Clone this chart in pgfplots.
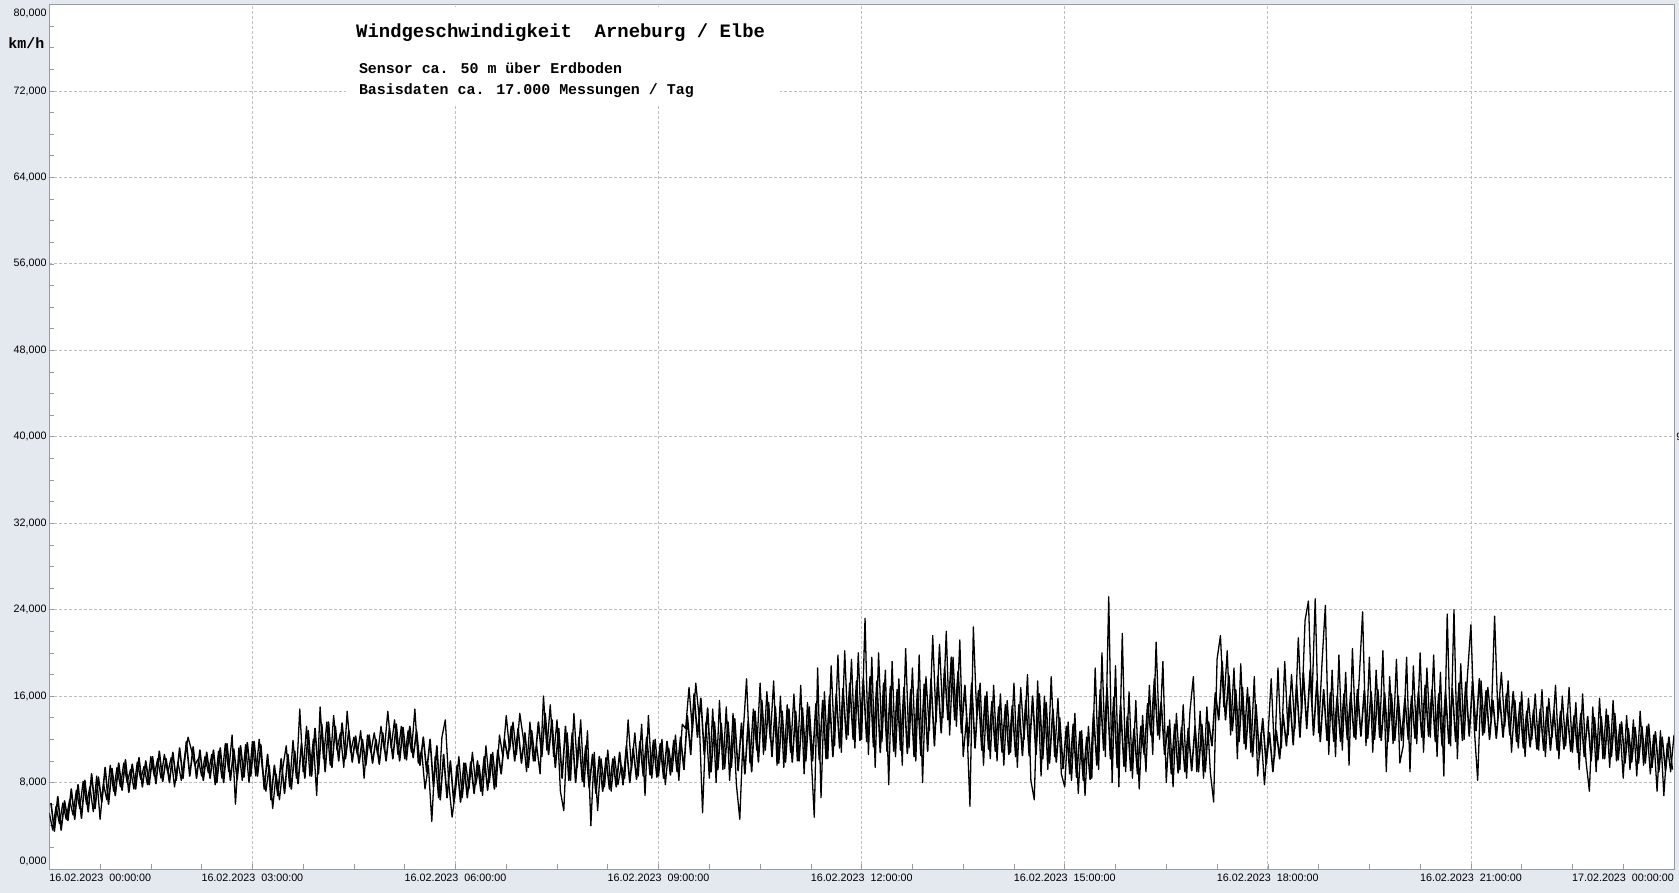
\documentclass[border=0pt]{standalone}
\usepackage{pgfplots}
\pgfplotsset{compat=1.18}
\usepackage{pgfplotstable}
\usepackage{fontspec}
\setmainfont{Liberation Sans}
\newfontfamily\cour{Liberation Mono}
\definecolor{bgc}{RGB}{228,232,239}
\definecolor{gridc}{RGB}{190,190,190}
\definecolor{framec}{RGB}{150,154,162}
% readings at t = h + 0.00, 0.05, ...
\pgfplotstableread[row sep=\\]{t v\\
0.00 5.2\\ 0.05 3.6\\ 0.10 5.8\\ 0.15 4.2\\ 0.20 6.1\\ 0.25 4.6\\ 0.30 6.4\\ 0.35 5.0\\ 0.40 7.3\\ 0.45 5.6\\ 0.50 8.1\\ 0.55 6.0\\ 0.60 7.6\\ 0.65 5.3\\ 0.70 8.6\\ 0.75 4.6\\ 0.80 7.9\\ 0.85 6.4\\ 0.90 9.6\\ 0.95 7.2\\
1.00 9.4\\ 1.05 7.6\\ 1.10 9.8\\ 1.15 8.0\\ 1.20 9.2\\ 1.25 7.4\\ 1.30 9.9\\ 1.35 8.3\\ 1.40 9.5\\ 1.45 7.8\\ 1.50 10.4\\ 1.55 8.6\\ 1.60 10.2\\ 1.65 8.4\\ 1.70 10.6\\ 1.75 8.9\\ 1.80 10.3\\ 1.85 7.6\\ 1.90 9.9\\ 1.95 8.2\\
2.00 10.4\\ 2.05 12.2\\ 2.10 11.0\\ 2.15 9.6\\ 2.20 10.2\\ 2.25 8.6\\ 2.30 10.4\\ 2.35 8.9\\ 2.40 10.6\\ 2.45 7.8\\ 2.50 10.9\\ 2.55 8.4\\ 2.60 11.6\\ 2.65 9.0\\ 2.70 12.4\\ 2.75 6.0\\ 2.80 11.2\\ 2.85 8.2\\ 2.90 11.5\\ 2.95 8.0\\
3.00 11.8\\ 3.05 8.6\\ 3.10 12.0\\ 3.15 9.2\\ 3.20 7.2\\ 3.25 9.6\\ 3.30 5.6\\ 3.35 8.8\\ 3.40 6.4\\ 3.45 9.4\\ 3.50 11.4\\ 3.55 7.6\\ 3.60 11.9\\ 3.65 8.4\\ 3.70 14.8\\ 3.75 9.0\\ 3.80 13.2\\ 3.85 8.6\\ 3.90 12.0\\ 3.95 6.8\\
4.00 15.0\\ 4.05 10.2\\ 4.10 13.6\\ 4.15 9.6\\ 4.20 14.2\\ 4.25 11.0\\ 4.30 12.6\\ 4.35 9.4\\ 4.40 14.6\\ 4.45 10.8\\ 4.50 12.2\\ 4.55 10.6\\ 4.60 12.8\\ 4.65 8.4\\ 4.70 12.4\\ 4.75 10.8\\ 4.80 12.6\\ 4.85 10.6\\ 4.90 13.2\\ 4.95 11.0\\
5.00 14.6\\ 5.05 11.2\\ 5.10 13.8\\ 5.15 10.6\\ 5.20 13.2\\ 5.25 10.2\\ 5.30 12.8\\ 5.35 10.8\\ 5.40 14.8\\ 5.45 9.8\\ 5.50 11.0\\ 5.55 7.4\\ 5.60 9.6\\ 5.65 4.4\\ 5.70 10.4\\ 5.75 6.6\\ 5.80 12.2\\ 5.85 13.8\\ 5.90 8.0\\ 5.95 4.8\\
6.00 7.2\\ 6.05 10.4\\ 6.10 6.6\\ 6.15 9.8\\ 6.20 7.4\\ 6.25 10.8\\ 6.30 7.8\\ 6.35 9.6\\ 6.40 6.8\\ 6.45 11.4\\ 6.50 8.0\\ 6.55 10.8\\ 6.60 7.6\\ 6.65 12.4\\ 6.70 10.4\\ 6.75 14.2\\ 6.80 11.0\\ 6.85 13.6\\ 6.90 10.6\\ 6.95 14.4\\
7.00 12.2\\ 7.05 9.0\\ 7.10 13.6\\ 7.15 10.0\\ 7.20 11.4\\ 7.25 8.8\\ 7.30 16.0\\ 7.35 11.0\\ 7.40 15.2\\ 7.45 10.4\\ 7.50 13.8\\ 7.55 7.2\\ 7.60 5.4\\ 7.65 12.6\\ 7.70 8.2\\ 7.75 14.4\\ 7.80 9.4\\ 7.85 13.8\\ 7.90 7.6\\ 7.95 12.8\\
8.00 4.0\\ 8.05 10.8\\ 8.10 5.4\\ 8.15 10.2\\ 8.20 7.6\\ 8.25 11.0\\ 8.30 7.2\\ 8.35 10.4\\ 8.40 7.8\\ 8.45 9.6\\ 8.50 8.4\\ 8.55 13.8\\ 8.60 9.2\\ 8.65 12.6\\ 8.70 8.6\\ 8.75 13.4\\ 8.80 6.8\\ 8.85 14.2\\ 8.90 8.4\\ 8.95 12.0\\
9.00 8.6\\ 9.05 12.0\\ 9.10 7.8\\ 9.15 11.2\\ 9.20 9.0\\ 9.25 12.4\\ 9.30 8.2\\ 9.35 13.4\\ 9.40 13.0\\ 9.45 16.8\\ 9.50 12.8\\ 9.55 17.2\\ 9.60 14.0\\ 9.65 5.2\\ 9.70 13.6\\ 9.75 8.4\\ 9.80 14.8\\ 9.85 8.0\\ 9.90 15.6\\ 9.95 9.2\\
10.00 15.0\\ 10.05 8.2\\ 10.10 14.4\\ 10.15 7.8\\ 10.20 4.6\\ 10.25 12.6\\ 10.30 17.6\\ 10.35 9.8\\ 10.40 14.8\\ 10.45 11.0\\ 10.50 17.2\\ 10.55 10.6\\ 10.60 16.4\\ 10.65 12.0\\ 10.70 17.4\\ 10.75 9.6\\ 10.80 16.0\\ 10.85 9.4\\ 10.90 15.2\\ 10.95 10.8\\
11.00 16.2\\ 11.05 10.0\\ 11.10 17.0\\ 11.15 8.8\\ 11.20 15.4\\ 11.25 11.0\\ 11.30 4.8\\ 11.35 18.6\\ 11.40 6.6\\ 11.45 16.4\\ 11.50 10.2\\ 11.55 18.8\\ 11.60 11.4\\ 11.65 19.8\\ 11.70 10.8\\ 11.75 20.2\\ 11.80 12.4\\ 11.85 19.4\\ 11.90 11.2\\ 11.95 20.0\\
12.00 12.0\\ 12.05 23.2\\ 12.10 10.6\\ 12.15 19.6\\ 12.20 9.4\\ 12.25 20.0\\ 12.30 11.8\\ 12.35 18.4\\ 12.40 7.8\\ 12.45 19.2\\ 12.50 10.4\\ 12.55 17.6\\ 12.60 9.6\\ 12.65 20.4\\ 12.70 11.2\\ 12.75 18.6\\ 12.80 10.0\\ 12.85 19.8\\ 12.90 8.0\\ 12.95 17.8\\
13.00 12.8\\ 13.05 21.6\\ 13.10 13.6\\ 13.15 20.8\\ 13.20 14.0\\ 13.25 22.0\\ 13.30 12.4\\ 13.35 19.6\\ 13.40 13.2\\ 13.45 21.2\\ 13.50 10.4\\ 13.55 14.0\\ 13.60 5.8\\ 13.65 22.4\\ 13.70 14.2\\ 13.75 17.2\\ 13.80 9.6\\ 13.85 16.4\\ 13.90 10.2\\ 13.95 17.0\\
14.00 10.0\\ 14.05 16.2\\ 14.10 9.6\\ 14.15 15.6\\ 14.20 10.8\\ 14.25 17.2\\ 14.30 9.4\\ 14.35 16.8\\ 14.40 12.0\\ 14.45 18.0\\ 14.50 8.2\\ 14.55 6.4\\ 14.60 17.4\\ 14.65 8.6\\ 14.70 16.0\\ 14.75 9.2\\ 14.80 17.8\\ 14.85 10.4\\ 14.90 15.8\\ 14.95 8.8\\
15.00 7.6\\ 15.05 13.6\\ 15.10 8.2\\ 15.15 14.4\\ 15.20 7.0\\ 15.25 12.8\\ 15.30 6.8\\ 15.35 13.2\\ 15.40 8.4\\ 15.45 18.6\\ 15.50 9.2\\ 15.55 20.0\\ 15.60 10.4\\ 15.65 25.2\\ 15.70 8.0\\ 15.75 18.8\\ 15.80 7.6\\ 15.85 21.8\\ 15.90 9.0\\ 15.95 16.4\\
16.00 8.4\\ 16.05 15.6\\ 16.10 7.4\\ 16.15 14.2\\ 16.20 9.0\\ 16.25 17.0\\ 16.30 10.6\\ 16.35 21.0\\ 16.40 12.0\\ 16.45 19.2\\ 16.50 8.0\\ 16.55 13.8\\ 16.60 7.6\\ 16.65 14.4\\ 16.70 9.2\\ 16.75 15.2\\ 16.80 8.4\\ 16.85 14.6\\ 16.90 17.8\\ 16.95 9.0\\
17.00 14.6\\ 17.05 8.4\\ 17.10 15.0\\ 17.15 9.0\\ 17.20 6.2\\ 17.25 19.4\\ 17.30 21.6\\ 17.35 15.0\\ 17.40 20.2\\ 17.45 12.4\\ 17.50 18.6\\ 17.55 10.2\\ 17.60 19.0\\ 17.65 11.6\\ 17.70 16.8\\ 17.75 10.8\\ 17.80 17.8\\ 17.85 8.6\\ 17.90 12.6\\ 17.95 7.8\\
18.00 12.0\\ 18.05 17.6\\ 18.10 10.4\\ 18.15 18.6\\ 18.20 11.2\\ 18.25 19.2\\ 18.30 12.4\\ 18.35 18.0\\ 18.40 13.0\\ 18.45 21.4\\ 18.50 14.4\\ 18.55 23.0\\ 18.60 24.8\\ 18.65 15.0\\ 18.70 25.0\\ 18.75 12.6\\ 18.80 19.0\\ 18.85 24.4\\ 18.90 10.6\\ 18.95 18.4\\
19.00 10.4\\ 19.05 19.8\\ 19.10 11.0\\ 19.15 18.2\\ 19.20 9.6\\ 19.25 20.4\\ 19.30 12.0\\ 19.35 17.6\\ 19.40 23.8\\ 19.45 11.4\\ 19.50 19.6\\ 19.55 10.8\\ 19.60 18.4\\ 19.65 12.2\\ 19.70 20.2\\ 19.75 9.0\\ 19.80 17.8\\ 19.85 11.6\\ 19.90 19.4\\ 19.95 9.8\\
20.00 11.4\\ 20.05 19.6\\ 20.10 9.0\\ 20.15 18.8\\ 20.20 11.6\\ 20.25 20.0\\ 20.30 10.8\\ 20.35 18.6\\ 20.40 12.2\\ 20.45 19.8\\ 20.50 10.4\\ 20.55 18.2\\ 20.60 8.6\\ 20.65 23.6\\ 20.70 11.4\\ 20.75 24.0\\ 20.80 10.2\\ 20.85 19.0\\ 20.90 12.0\\ 20.95 18.0\\
21.00 22.6\\ 21.05 13.0\\ 21.10 8.2\\ 21.15 17.4\\ 21.20 12.6\\ 21.25 16.8\\ 21.30 13.8\\ 21.35 23.4\\ 21.40 14.0\\ 21.45 18.2\\ 21.50 13.2\\ 21.55 17.4\\ 21.60 10.8\\ 21.65 15.6\\ 21.70 11.2\\ 21.75 16.4\\ 21.80 10.4\\ 21.85 15.8\\ 21.90 12.0\\ 21.95 16.2\\
22.00 11.0\\ 22.05 16.6\\ 22.10 10.4\\ 22.15 15.8\\ 22.20 12.2\\ 22.25 17.0\\ 22.30 10.2\\ 22.35 16.0\\ 22.40 11.4\\ 22.45 16.8\\ 22.50 10.8\\ 22.55 15.4\\ 22.60 9.2\\ 22.65 16.2\\ 22.70 10.0\\ 22.75 7.2\\ 22.80 15.0\\ 22.85 9.0\\ 22.90 15.8\\ 22.95 10.2\\
23.00 14.8\\ 23.05 9.4\\ 23.10 15.6\\ 23.15 10.0\\ 23.20 13.4\\ 23.25 8.4\\ 23.30 14.2\\ 23.35 9.2\\ 23.40 13.8\\ 23.45 8.6\\ 23.50 14.6\\ 23.55 9.6\\ 23.60 13.2\\ 23.65 8.8\\ 23.70 12.4\\ 23.75 7.2\\ 23.80 12.8\\ 23.85 6.8\\ 23.90 11.6\\ 23.95 9.0\\
24.00 12.4\\
}\windA
% readings at t = h + 0.025, 0.075, ...
\pgfplotstableread[row sep=\\]{t v\\
0.025 6.1\\ 0.075 3.5\\ 0.125 6.7\\ 0.175 3.6\\ 0.225 6.3\\ 0.275 4.5\\ 0.325 7.4\\ 0.375 4.6\\ 0.425 7.8\\ 0.475 4.7\\ 0.525 8.2\\ 0.575 5.3\\ 0.625 8.8\\ 0.675 5.6\\ 0.725 8.5\\ 0.775 6.2\\ 0.825 9.4\\ 0.875 6.0\\ 0.925 9.3\\ 0.975 6.8\\
1.025 9.8\\ 1.075 7.3\\ 1.125 10.1\\ 1.175 7.1\\ 1.225 9.7\\ 1.275 7.4\\ 1.325 10.3\\ 1.375 7.6\\ 1.425 10.0\\ 1.475 7.8\\ 1.525 10.4\\ 1.575 7.9\\ 1.625 10.9\\ 1.675 8.1\\ 1.725 10.2\\ 1.775 8.0\\ 1.825 10.8\\ 1.875 8.2\\ 1.925 11.2\\ 1.975 8.4\\
2.025 11.8\\ 2.075 8.6\\ 2.125 11.3\\ 2.175 8.4\\ 2.225 11.0\\ 2.275 8.2\\ 2.325 10.8\\ 2.375 8.4\\ 2.425 11.0\\ 2.475 8.0\\ 2.525 11.2\\ 2.575 8.0\\ 2.625 11.6\\ 2.675 8.2\\ 2.725 11.1\\ 2.775 8.3\\ 2.825 11.4\\ 2.875 8.5\\ 2.925 11.7\\ 2.975 8.6\\
3.025 11.8\\ 3.075 8.6\\ 3.125 11.5\\ 3.175 7.4\\ 3.225 10.6\\ 3.275 6.4\\ 3.325 9.6\\ 3.375 6.8\\ 3.425 10.2\\ 3.475 7.0\\ 3.525 10.6\\ 3.575 7.4\\ 3.625 10.9\\ 3.675 7.9\\ 3.725 11.6\\ 3.775 8.4\\ 3.825 12.8\\ 3.875 8.6\\ 3.925 13.0\\ 3.975 8.8\\
4.025 13.4\\ 4.075 9.0\\ 4.125 13.6\\ 4.175 9.4\\ 4.225 13.2\\ 4.275 10.0\\ 4.325 13.5\\ 4.375 10.2\\ 4.425 12.8\\ 4.475 9.9\\ 4.525 12.3\\ 4.575 9.8\\ 4.625 12.0\\ 4.675 9.6\\ 4.725 12.4\\ 4.775 9.8\\ 4.825 12.0\\ 4.875 9.7\\ 4.925 12.6\\ 4.975 10.0\\
5.025 13.0\\ 5.075 10.2\\ 5.125 13.4\\ 5.175 10.0\\ 5.225 13.1\\ 5.275 10.1\\ 5.325 13.2\\ 5.375 10.3\\ 5.425 12.8\\ 5.475 9.6\\ 5.525 12.2\\ 5.575 9.0\\ 5.625 12.0\\ 5.675 7.6\\ 5.725 11.4\\ 5.775 6.4\\ 5.825 10.6\\ 5.875 6.6\\ 5.925 10.0\\ 5.975 6.2\\
6.025 9.6\\ 6.075 6.2\\ 6.125 9.8\\ 6.175 6.6\\ 6.225 9.9\\ 6.275 7.0\\ 6.325 10.0\\ 6.375 7.2\\ 6.425 10.4\\ 6.475 7.3\\ 6.525 10.6\\ 6.575 7.4\\ 6.625 11.0\\ 6.675 8.8\\ 6.725 12.0\\ 6.775 10.2\\ 6.825 13.2\\ 6.875 10.0\\ 6.925 13.0\\ 6.975 9.8\\
7.025 12.6\\ 7.075 9.4\\ 7.125 12.8\\ 7.175 10.0\\ 7.225 13.6\\ 7.275 10.4\\ 7.325 14.4\\ 7.375 10.6\\ 7.425 13.8\\ 7.475 9.4\\ 7.525 13.0\\ 7.575 8.4\\ 7.625 13.2\\ 7.675 8.2\\ 7.725 12.6\\ 7.775 8.0\\ 7.825 12.2\\ 7.875 8.1\\ 7.925 11.4\\ 7.975 7.5\\
8.025 10.6\\ 8.075 7.0\\ 8.125 10.4\\ 8.175 7.2\\ 8.225 10.3\\ 8.275 7.4\\ 8.325 10.2\\ 8.375 7.6\\ 8.425 10.8\\ 8.475 7.8\\ 8.525 11.4\\ 8.575 8.0\\ 8.625 11.2\\ 8.675 8.3\\ 8.725 11.8\\ 8.775 8.6\\ 8.825 12.2\\ 8.875 8.7\\ 8.925 11.9\\ 8.975 8.5\\
9.025 11.6\\ 9.075 8.4\\ 9.125 11.8\\ 9.175 8.7\\ 9.225 11.9\\ 9.275 9.0\\ 9.325 12.2\\ 9.375 9.2\\ 9.425 14.2\\ 9.475 10.6\\ 9.525 16.2\\ 9.575 12.2\\ 9.625 15.8\\ 9.675 10.6\\ 9.725 14.9\\ 9.775 9.0\\ 9.825 13.6\\ 9.875 9.2\\ 9.925 13.5\\ 9.975 9.3\\
10.025 13.6\\ 10.075 9.4\\ 10.125 13.9\\ 10.175 9.1\\ 10.225 13.5\\ 10.275 8.8\\ 10.325 13.7\\ 10.375 9.0\\ 10.425 14.6\\ 10.475 9.9\\ 10.525 15.6\\ 10.575 11.0\\ 10.625 15.4\\ 10.675 10.4\\ 10.725 15.0\\ 10.775 9.8\\ 10.825 14.6\\ 10.875 9.9\\ 10.925 14.8\\ 10.975 9.9\\
11.025 14.6\\ 11.075 10.0\\ 11.125 14.9\\ 11.175 10.0\\ 11.225 15.0\\ 11.275 10.0\\ 11.325 15.3\\ 11.375 10.1\\ 11.425 15.6\\ 11.475 10.2\\ 11.525 16.0\\ 11.575 10.4\\ 11.625 16.2\\ 11.675 11.2\\ 11.725 16.7\\ 11.775 12.0\\ 11.825 17.2\\ 11.875 12.0\\ 11.925 17.4\\ 11.975 11.9\\
12.025 17.6\\ 12.075 11.8\\ 12.125 17.8\\ 12.175 11.3\\ 12.225 17.4\\ 12.275 10.8\\ 12.325 17.2\\ 12.375 10.9\\ 12.425 16.9\\ 12.475 10.9\\ 12.525 16.6\\ 12.575 11.0\\ 12.625 16.8\\ 12.675 10.7\\ 12.725 16.6\\ 12.775 10.4\\ 12.825 16.6\\ 12.875 10.5\\ 12.925 17.1\\ 12.975 10.9\\
13.025 17.6\\ 13.075 11.4\\ 13.125 17.8\\ 13.175 12.6\\ 13.225 18.6\\ 13.275 13.8\\ 13.325 19.6\\ 13.375 13.8\\ 13.425 18.3\\ 13.475 12.6\\ 13.525 17.0\\ 13.575 11.4\\ 13.625 17.2\\ 13.675 11.2\\ 13.725 16.5\\ 13.775 11.0\\ 13.825 16.0\\ 13.875 11.1\\ 13.925 15.5\\ 13.975 10.9\\
14.025 15.0\\ 14.075 10.8\\ 14.125 15.2\\ 14.175 10.6\\ 14.225 15.1\\ 14.275 10.4\\ 14.325 15.2\\ 14.375 10.5\\ 14.425 15.6\\ 14.475 10.5\\ 14.525 16.0\\ 14.575 10.6\\ 14.625 16.2\\ 14.675 10.2\\ 14.725 15.4\\ 14.775 9.8\\ 14.825 14.8\\ 14.875 9.9\\ 14.925 14.0\\ 14.975 9.3\\
15.025 13.2\\ 15.075 8.8\\ 15.125 13.4\\ 15.175 8.5\\ 15.225 12.7\\ 15.275 8.2\\ 15.325 12.2\\ 15.375 8.3\\ 15.425 14.4\\ 15.475 9.6\\ 15.525 16.6\\ 15.575 11.0\\ 15.625 16.8\\ 15.675 10.2\\ 15.725 15.9\\ 15.775 9.4\\ 15.825 15.2\\ 15.875 9.5\\ 15.925 14.1\\ 15.975 9.1\\
16.025 13.0\\ 16.075 8.8\\ 16.125 13.2\\ 16.175 10.6\\ 16.225 15.3\\ 16.275 12.4\\ 16.325 17.6\\ 16.375 12.4\\ 16.425 15.4\\ 16.475 10.6\\ 16.525 13.2\\ 16.575 8.8\\ 16.625 13.4\\ 16.675 8.9\\ 16.725 13.1\\ 16.775 9.0\\ 16.825 13.0\\ 16.875 9.1\\ 16.925 13.2\\ 16.975 9.0\\
17.025 13.4\\ 17.075 9.0\\ 17.125 13.6\\ 17.175 11.4\\ 17.225 16.3\\ 17.275 13.8\\ 17.325 19.2\\ 17.375 13.8\\ 17.425 17.9\\ 17.475 12.8\\ 17.525 16.6\\ 17.575 11.8\\ 17.625 16.8\\ 17.675 11.1\\ 17.725 15.9\\ 17.775 10.4\\ 17.825 15.2\\ 17.875 10.5\\ 17.925 13.9\\ 17.975 9.7\\
18.025 12.6\\ 18.075 9.0\\ 18.125 12.8\\ 18.175 10.2\\ 18.225 14.3\\ 18.275 11.4\\ 18.325 16.0\\ 18.375 11.5\\ 18.425 17.1\\ 18.475 12.2\\ 18.525 18.2\\ 18.575 13.0\\ 18.625 18.4\\ 18.675 12.4\\ 18.725 17.4\\ 18.775 11.8\\ 18.825 16.6\\ 18.875 11.9\\ 18.925 16.3\\ 18.975 11.8\\
19.025 16.0\\ 19.075 11.8\\ 19.125 16.2\\ 19.175 12.0\\ 19.225 16.3\\ 19.275 12.2\\ 19.325 16.6\\ 19.375 12.3\\ 19.425 16.5\\ 19.475 12.1\\ 19.525 16.4\\ 19.575 12.0\\ 19.625 16.6\\ 19.675 11.9\\ 19.725 16.3\\ 19.775 11.8\\ 19.825 16.2\\ 19.875 11.9\\ 19.925 16.0\\ 19.975 11.9\\
20.025 15.8\\ 20.075 12.0\\ 20.125 16.0\\ 20.175 12.1\\ 20.225 16.4\\ 20.275 12.2\\ 20.325 17.0\\ 20.375 12.3\\ 20.425 16.6\\ 20.475 11.8\\ 20.525 16.2\\ 20.575 11.4\\ 20.625 16.4\\ 20.675 11.6\\ 20.725 16.7\\ 20.775 11.8\\ 20.825 17.2\\ 20.875 11.9\\ 20.925 17.3\\ 20.975 12.3\\
21.025 17.4\\ 21.075 12.8\\ 21.125 17.6\\ 21.175 12.4\\ 21.225 16.5\\ 21.275 12.0\\ 21.325 15.6\\ 21.375 12.1\\ 21.425 15.9\\ 21.475 12.2\\ 21.525 16.2\\ 21.575 12.4\\ 21.625 16.4\\ 21.675 11.8\\ 21.725 15.4\\ 21.775 11.2\\ 21.825 14.6\\ 21.875 11.3\\ 21.925 14.7\\ 21.975 11.1\\
22.025 14.8\\ 22.075 11.0\\ 22.125 15.0\\ 22.175 11.0\\ 22.225 14.7\\ 22.275 11.0\\ 22.325 14.6\\ 22.375 11.1\\ 22.425 14.4\\ 22.475 10.9\\ 22.525 14.2\\ 22.575 10.8\\ 22.625 14.4\\ 22.675 10.4\\ 22.725 14.1\\ 22.775 10.0\\ 22.825 14.0\\ 22.875 10.1\\ 22.925 14.1\\ 22.975 10.2\\
23.025 14.2\\ 23.075 10.4\\ 23.125 14.4\\ 23.175 10.1\\ 23.225 13.6\\ 23.275 9.8\\ 23.325 13.0\\ 23.375 9.9\\ 23.425 13.1\\ 23.475 9.8\\ 23.525 13.2\\ 23.575 9.8\\ 23.625 13.4\\ 23.675 9.4\\ 23.725 12.7\\ 23.775 9.0\\ 23.825 12.2\\ 23.875 9.1\\ 23.925 12.2\\ 23.975 9.2\\
}\windB
\begin{document}
\begin{tikzpicture}
\useasboundingbox (-49.3bp,-24bp) rectangle (1629.7bp,869bp);
\fill[bgc] (-49.3bp,-24bp) rectangle (1629.7bp,869bp);
\begin{axis}[
  at={(0,0)}, anchor=south west, scale only axis,
  width=1624.7bp, height=864.5bp,
  xmin=0, xmax=24, ymin=0, ymax=80,
  axis background/.style={fill=white},
  axis line style={framec, line width=0.8bp},
  xtick={0,3,...,24}, ytick={0,8,...,80},
  minor x tick num=3, minor y tick num=3,
  tick pos=left, tick align=inside,
  major tick length=5bp, minor tick length=5bp,
  every tick/.style={framec, line width=0.6bp},
  grid=major,
  major grid style={gridc, dash pattern=on 3bp off 2bp, line width=0.8bp},
  xticklabels={,{16.02.2023\ \ 03:00:00},{16.02.2023\ \ 06:00:00},{16.02.2023\ \ 09:00:00},{16.02.2023\ \ 12:00:00},{16.02.2023\ \ 15:00:00},{16.02.2023\ \ 18:00:00},{16.02.2023\ \ 21:00:00},},
  yticklabels={,{8,000},{16,000},{24,000},{32,000},{40,000},{48,000},{56,000},{64,000},{72,000},},
  tick label style={font=\fontsize{10.8}{12}\selectfont, inner sep=0pt},
  xticklabel style={yshift=-4.3bp},
  yticklabel style={xshift=-2.6bp},
]
\addplot[black, line width=1.6bp, line join=round] table[x=t, y=v] {\windB};
\addplot[black, line width=1.3bp, line join=round] table[x=t, y=v] {\windA};
\end{axis}
\begin{scope}[every node/.style={inner sep=0pt, font=\fontsize{10.8}{12}\selectfont}]
\node[anchor=north west] at (0bp,-4.3bp) {16.02.2023\ \ 00:00:00};
\node[anchor=north east] at (1624.7bp,-4.3bp) {17.02.2023\ \ 00:00:00};
\node[anchor=east] at (-2.6bp,7.3bp) {0,000};
\node[anchor=east] at (-2.6bp,856bp) {80,000};
\node[anchor=west] at (1626.9bp,432.3bp) {9};
\end{scope}
\fill[white] (296.7bp,763bp) rectangle (730.7bp,862bp);
\node[anchor=base west, inner sep=0pt, font=\cour\bfseries\fontsize{19}{22}\selectfont] at (306.7bp,831.3bp) {Windgeschwindigkeit\ \ Arneburg / Elbe};
\node[anchor=base west, inner sep=0pt, font=\cour\bfseries\fontsize{15}{18}\selectfont] at (309.5bp,795bp) {Sensor ca. 50 m über Erdboden};
\node[anchor=base west, inner sep=0pt, font=\cour\bfseries\fontsize{15}{18}\selectfont] at (309.5bp,774.7bp) {Basisdaten ca. 17.000 Messungen / Tag};
\node[anchor=base west, inner sep=0pt, font=\cour\bfseries\fontsize{15}{18}\selectfont] at (-41bp,820bp) {km/h};
\end{tikzpicture}
\end{document}
